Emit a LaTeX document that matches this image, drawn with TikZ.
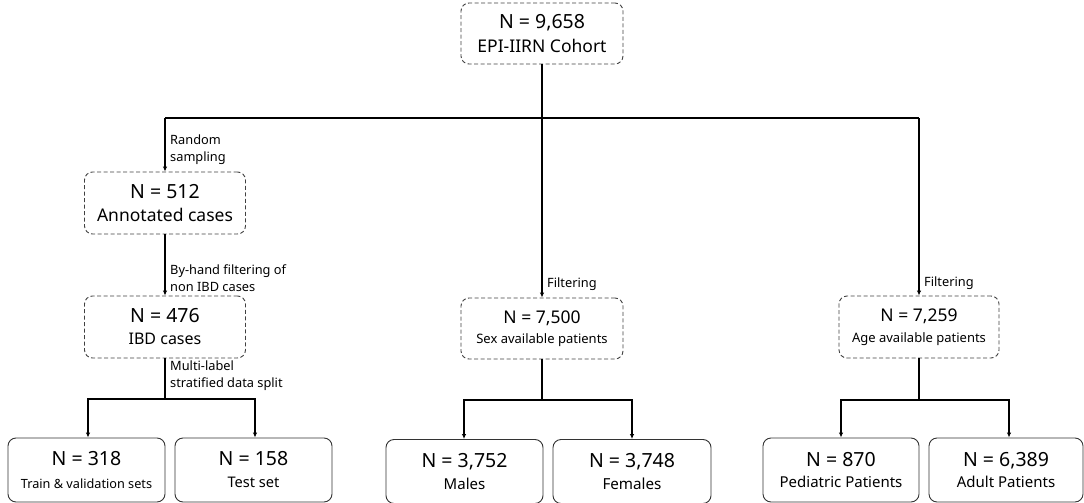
\documentclass[tikz,border=0pt]{standalone}
\usepackage{fontspec}
\setmainfont{Noto Sans}
\usetikzlibrary{arrows.meta}
\newcommand{\fs}[1]{\fontsize{#1}{#1}\selectfont}
\tikzset{
  bs/.style={font=\fontsize{10}{#1}\selectfont},
  dbox/.style={draw=black!75, dashed, dash pattern=on 4pt off 2.5pt, rounded corners=8pt, line width=0.9pt, align=center, inner sep=0pt},
  sbox/.style={draw=black!80, rounded corners=8pt, line width=0.9pt, align=center, inner sep=0pt, minimum height=64pt},
  conn/.style={line width=1.4pt, draw=black},
  arr/.style={conn, -{Latex[length=5pt,width=4.5pt]}},
  lbl/.style={anchor=west, align=left, font=\fontsize{12.8}{17}\selectfont, inner sep=0pt},
}
\begin{document}
\begin{tikzpicture}[x=1pt,y=-1pt]
\useasboundingbox (0,0) rectangle (1084,503);
% dashed boxes
\node[dbox, bs=24.5, minimum width=162pt, minimum height=61pt] (top) at (542,33.5)
  {{\fs{19.5}N = 9,658}\\{\fs{17.5}EPI-IIRN Cohort}};
\node[dbox, bs=23.5, minimum width=161pt, minimum height=62pt] (ann) at (165,203)
  {{\fs{19.5}N = 512}\\{\fs{17.5}Annotated cases}};
\node[dbox, bs=22, minimum width=161pt, minimum height=62pt] (ibd) at (165,327)
  {{\fs{19.5}N = 476}\\{\fs{16}IBD cases}};
\node[dbox, bs=19.5, minimum width=162pt, minimum height=61pt] (sex) at (542,328.5)
  {{\fs{17.5}N = 7,500}\\{\fs{13}Sex available patients}};
\node[dbox, bs=20.5, minimum width=160pt, minimum height=62pt] (age) at (919,327)
  {{\fs{17.5}N = 7,259}\\{\fs{13}Age available patients}};
% solid boxes
\node[sbox, bs=22.5, minimum width=157pt] (train) at (86.5,470)
  {{\fs{19.5}N = 318}\\{\fs{12.7}Train \& validation sets}};
\node[sbox, bs=22, minimum width=157pt] (test) at (253.5,470)
  {{\fs{19.5}N = 158}\\{\fs{14.6}Test set}};
\node[sbox, bs=21.5, minimum width=157pt] (males) at (464.5,471.5)
  {{\fs{19.5}N = 3,752}\\{\fs{15}Males}};
\node[sbox, bs=21.5, minimum width=158pt] (females) at (632,471.5)
  {{\fs{19.5}N = 3,748}\\{\fs{15.2}Females}};
\node[sbox, bs=21.5, minimum width=156pt] (ped) at (841,470)
  {{\fs{19.5}N = 870}\\{\fs{15}Pediatric Patients}};
\node[sbox, bs=21.5, minimum width=154pt] (adult) at (1006,470)
  {{\fs{19.5}N = 6,389}\\{\fs{15}Adult Patients}};
% junction coordinates
\coordinate (hl) at (165,118);
\coordinate (hr) at (919,118);
\coordinate (ibdL) at (88,399);
\coordinate (ibdR) at (255,399);
\coordinate (sexL) at (464,400);
\coordinate (sexR) at (632,400);
\coordinate (ageL) at (841,400);
\coordinate (ageR) at (1009,400);
% connectors
\draw[arr] (top.south) -- (sex.north);
\draw[conn] (hl) -- (hr);
\draw[arr] (hl) -- (ann.north);
\draw[arr] (hr) -- (age.north);
\draw[arr] (ann.south) -- (ibd.north);
\draw[conn] (ibd.south) -- (ibd.south |- ibdL);
\draw[arr] (ibdL -| ibd.south) -- (ibdL) -- (train.north -| ibdL);
\draw[arr] (ibdL) -- (ibdR) -- (test.north -| ibdR);
\draw[conn] (sex.south) -- (sex.south |- sexL);
\draw[arr] (sexL) -- (sexR) -- (females.north -| sexR);
\draw[arr] (sexL -| sex.south) -- (sexL) -- (males.north -| sexL);
\draw[conn] (age.south) -- (age.south |- ageL);
\draw[arr] (ageL) -- (ageR) -- (adult.north -| ageR);
\draw[arr] (ageL -| age.south) -- (ageL) -- (ped.north -| ageL);
% labels
\node[lbl] (l1) at (170,150) {Random\\sampling};
\node[lbl] (l2) at (170,278) {By-hand filtering of\\non IBD cases};
\node[lbl] (l3) at (170,376) {Multi-label\\stratified data split};
\node[lbl] (l4) at (547,284) {Filtering};
\node[lbl] (l5) at (924,283) {Filtering};
\end{tikzpicture}
\end{document}
